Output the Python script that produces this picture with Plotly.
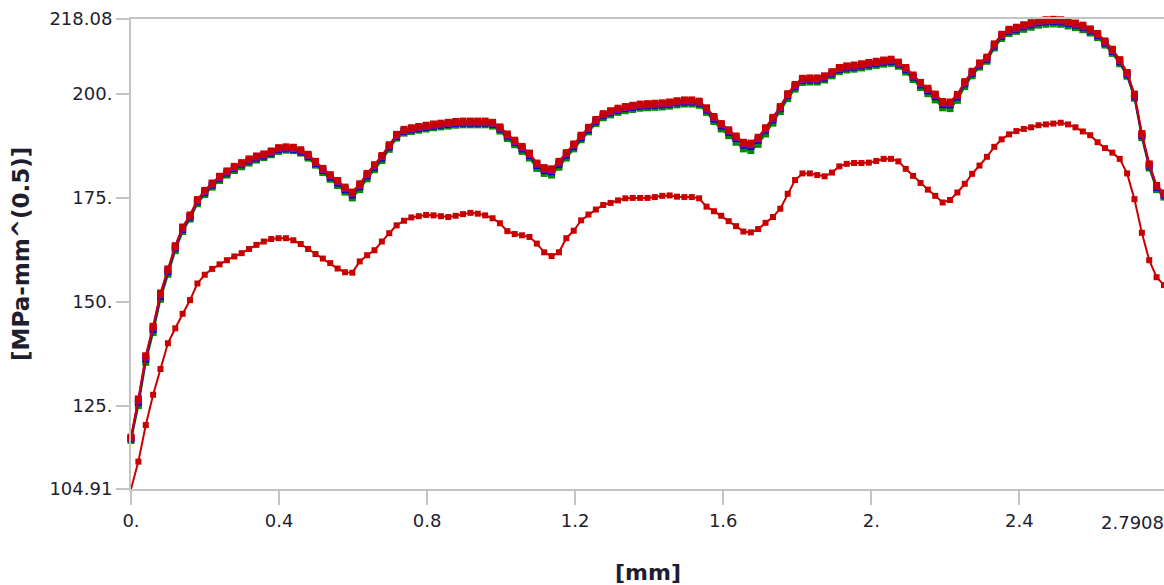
import plotly.graph_objects as go

# distance along path [mm]
x_mm = [0.0, 0.0199, 0.0399, 0.0598, 0.0797, 0.0997, 0.1196, 0.1395, 0.1595, 0.1794,
        0.1993, 0.2193, 0.2392, 0.2591, 0.2791, 0.2990, 0.3189, 0.3389, 0.3588, 0.3788,
        0.3987, 0.4186, 0.4386, 0.4585, 0.4784, 0.4984, 0.5183, 0.5382, 0.5582, 0.5781,
        0.5980, 0.6180, 0.6379, 0.6578, 0.6778, 0.6977, 0.7176, 0.7376, 0.7575, 0.7774,
        0.7974, 0.8173, 0.8372, 0.8572, 0.8771, 0.8970, 0.9170, 0.9369, 0.9568, 0.9768,
        0.9967, 1.0167, 1.0366, 1.0565, 1.0765, 1.0964, 1.1163, 1.1363, 1.1562, 1.1761,
        1.1961, 1.2160, 1.2359, 1.2559, 1.2758, 1.2957, 1.3157, 1.3356, 1.3555, 1.3755,
        1.3954, 1.4153, 1.4353, 1.4552, 1.4751, 1.4951, 1.5150, 1.5349, 1.5549, 1.5748,
        1.5947, 1.6147, 1.6346, 1.6545, 1.6745, 1.6944, 1.7143, 1.7343, 1.7542, 1.7742,
        1.7941, 1.8140, 1.8340, 1.8539, 1.8738, 1.8938, 1.9137, 1.9336, 1.9536, 1.9735,
        1.9934, 2.0134, 2.0333, 2.0532, 2.0732, 2.0931, 2.1130, 2.1330, 2.1529, 2.1728,
        2.1928, 2.2127, 2.2326, 2.2526, 2.2725, 2.2924, 2.3124, 2.3323, 2.3522, 2.3722,
        2.3921, 2.4120, 2.4320, 2.4519, 2.4718, 2.4918, 2.5117, 2.5316, 2.5516, 2.5715,
        2.5914, 2.6114, 2.6313, 2.6512, 2.6712, 2.6911, 2.7110, 2.7310, 2.7509, 2.7708,
        2.7908]

k_green = [116.6, 125.0, 135.4, 142.6, 150.6, 156.6, 162.3, 166.9, 169.9, 173.6,
           175.8, 177.6, 179.2, 180.5, 181.6, 182.5, 183.4, 184.1, 184.7, 185.4,
           186.2, 186.5, 186.4, 185.8, 184.6, 182.9, 181.1, 179.5, 178.0, 176.4,
           175.0, 177.0, 179.6, 181.8, 184.0, 186.7, 189.4, 190.6, 191.0, 191.3,
           191.6, 191.9, 192.1, 192.3, 192.5, 192.6, 192.6, 192.6, 192.6, 192.3,
           191.1, 189.3, 187.8, 186.2, 184.6, 182.1, 180.9, 180.5, 182.4, 184.6,
           186.8, 189.0, 190.9, 192.9, 194.3, 195.0, 195.6, 196.0, 196.3, 196.6,
           196.7, 196.8, 196.9, 197.1, 197.4, 197.6, 197.6, 197.3, 195.6, 193.4,
           191.6, 190.0, 188.4, 186.8, 186.4, 187.9, 190.4, 193.0, 195.8, 198.9,
           201.2, 202.8, 202.9, 202.9, 203.4, 204.4, 205.4, 205.8, 206.0, 206.3,
           206.6, 206.9, 207.2, 207.4, 206.7, 205.3, 203.5, 201.6, 200.1, 198.6,
           196.7, 196.5, 198.5, 201.8, 204.4, 206.5, 207.9, 211.1, 213.4, 214.6,
           215.1, 215.6, 216.1, 216.6, 216.8, 216.9, 216.8, 216.4, 216.0, 215.5,
           214.7, 213.6, 211.8, 209.8, 207.3, 204.3, 199.0, 189.5, 182.2, 177.0,
           175.2]

k_blue = [117.0, 125.8, 136.2, 143.3, 151.3, 157.2, 162.9, 167.4, 170.4, 174.1,
          176.3, 178.1, 179.7, 181.0, 182.1, 183.0, 183.9, 184.6, 185.1, 185.8,
          186.6, 186.8, 186.7, 186.1, 185.0, 183.3, 181.6, 180.0, 178.6, 177.0,
          175.7, 177.7, 180.3, 182.4, 184.6, 187.3, 189.8, 191.0, 191.4, 191.7,
          192.0, 192.3, 192.5, 192.7, 192.9, 193.0, 193.0, 193.0, 193.0, 192.7,
          191.6, 189.9, 188.4, 186.8, 185.2, 182.8, 181.6, 181.3, 183.1, 185.3,
          187.4, 189.5, 191.4, 193.4, 194.8, 195.5, 196.1, 196.5, 196.8, 197.1,
          197.2, 197.3, 197.4, 197.6, 197.9, 198.1, 198.1, 197.8, 196.2, 194.0,
          192.3, 190.8, 189.3, 187.7, 187.4, 188.9, 191.3, 193.8, 196.5, 199.6,
          201.8, 203.3, 203.4, 203.4, 203.9, 204.9, 205.9, 206.3, 206.5, 206.8,
          207.1, 207.4, 207.7, 207.9, 207.2, 205.9, 204.1, 202.2, 200.8, 199.4,
          197.5, 197.4, 199.3, 202.5, 205.0, 207.0, 208.4, 211.6, 213.9, 215.1,
          215.6, 216.2, 216.7, 217.2, 217.4, 217.5, 217.4, 217.0, 216.6, 216.1,
          215.2, 214.1, 212.3, 210.3, 207.8, 204.7, 199.5, 190.0, 182.7, 177.5,
          175.7]

k_purple = [117.2, 126.3, 136.7, 143.8, 151.8, 157.6, 163.2, 167.7, 170.6, 174.3,
            176.5, 178.3, 179.9, 181.2, 182.3, 183.2, 184.1, 184.8, 185.3, 186.0,
            186.8, 187.0, 186.9, 186.3, 185.2, 183.5, 181.8, 180.3, 178.9, 177.3,
            176.0, 178.0, 180.6, 182.7, 184.9, 187.5, 190.0, 191.2, 191.6, 191.9,
            192.2, 192.5, 192.7, 192.9, 193.1, 193.2, 193.2, 193.2, 193.2, 192.9,
            191.8, 190.1, 188.6, 187.1, 185.5, 183.1, 181.9, 181.6, 183.4, 185.6,
            187.7, 189.8, 191.7, 193.6, 195.0, 195.7, 196.3, 196.7, 197.0, 197.3,
            197.4, 197.5, 197.6, 197.8, 198.1, 198.3, 198.3, 198.0, 196.4, 194.3,
            192.6, 191.1, 189.6, 188.0, 187.8, 189.2, 191.6, 194.1, 196.7, 199.8,
            202.0, 203.5, 203.6, 203.6, 204.1, 205.1, 206.1, 206.5, 206.7, 207.0,
            207.3, 207.6, 207.9, 208.1, 207.4, 206.1, 204.3, 202.5, 201.1, 199.7,
            197.8, 197.7, 199.6, 202.7, 205.2, 207.2, 208.6, 211.8, 214.1, 215.3,
            215.8, 216.4, 216.9, 217.4, 217.6, 217.7, 217.6, 217.2, 216.8, 216.3,
            215.4, 214.3, 212.5, 210.5, 208.0, 204.9, 199.7, 190.2, 182.9, 177.7,
            175.9]

k_red = [117.4, 126.6, 137.0, 144.1, 152.1, 157.9, 163.5, 168.0, 170.9, 174.6,
         176.8, 178.6, 180.2, 181.5, 182.6, 183.5, 184.4, 185.1, 185.6, 186.3,
         187.1, 187.3, 187.2, 186.6, 185.5, 183.8, 182.1, 180.6, 179.2, 177.6,
         176.4, 178.4, 180.9, 183.0, 185.2, 187.8, 190.3, 191.5, 191.9, 192.2,
         192.5, 192.8, 193.0, 193.2, 193.4, 193.5, 193.5, 193.5, 193.5, 193.2,
         192.1, 190.4, 188.9, 187.4, 185.8, 183.4, 182.3, 182.0, 183.8, 185.9,
         188.0, 190.1, 192.0, 193.9, 195.3, 196.0, 196.6, 197.0, 197.3, 197.6,
         197.7, 197.8, 197.9, 198.1, 198.4, 198.6, 198.6, 198.3, 196.7, 194.6,
         192.9, 191.4, 189.9, 188.4, 188.2, 189.6, 191.9, 194.4, 197.0, 200.1,
         202.3, 203.8, 203.9, 203.9, 204.4, 205.4, 206.4, 206.8, 207.0, 207.3,
         207.6, 207.9, 208.2, 208.4, 207.7, 206.4, 204.6, 202.8, 201.4, 200.0,
         198.2, 198.1, 199.9, 203.0, 205.5, 207.5, 208.9, 212.1, 214.4, 215.6,
         216.1, 216.7, 217.2, 217.7, 217.9, 218.0, 217.9, 217.5, 217.1, 216.6,
         215.7, 214.6, 212.8, 210.8, 208.3, 205.2, 200.0, 190.5, 183.2, 178.0,
         176.2]

k_lower = [104.9, 111.5, 120.3, 127.6, 133.8, 140.0, 143.6, 147.1, 150.4, 154.4,
           156.5, 157.9, 159.0, 160.0, 160.9, 161.7, 162.7, 163.7, 164.5, 165.1,
           165.3, 165.3, 164.8, 163.9, 162.7, 161.5, 160.4, 159.3, 158.0, 157.1,
           157.0, 159.7, 161.2, 162.4, 164.5, 166.5, 168.4, 169.5, 170.3, 170.6,
           170.9, 170.8, 170.6, 170.4, 170.7, 171.1, 171.4, 171.2, 170.8, 170.1,
           168.9, 167.0, 166.3, 166.0, 165.6, 164.0, 161.9, 161.0, 161.9, 165.3,
           167.1, 169.6, 171.0, 172.2, 173.3, 173.8, 174.4, 174.9, 175.0, 175.0,
           175.0, 175.2, 175.5, 175.6, 175.3, 175.2, 175.2, 174.9, 172.9, 171.8,
           170.7, 169.4, 168.2, 166.9, 166.7, 167.5, 169.0, 170.4, 172.4, 176.0,
           179.3, 180.9, 180.9, 180.5, 180.2, 181.1, 182.6, 183.2, 183.4, 183.4,
           183.5, 183.9, 184.4, 184.4, 183.8, 182.0, 180.3, 178.6, 177.0, 175.5,
           173.9, 174.5, 176.3, 178.4, 180.8, 182.8, 184.9, 187.3, 189.1, 190.3,
           191.1, 191.6, 192.0, 192.5, 192.7, 192.9, 193.1, 192.7, 192.0, 191.0,
           190.1, 188.4, 187.0, 185.9, 184.4, 180.9, 174.7, 166.6, 160.0, 155.9,
           154.0]

x_ticks = [0.0, 0.4, 0.8, 1.2, 1.6, 2.0, 2.4]
x_ticktext = ["0.", "0.4", "0.8", "1.2", "1.6", "2.", "2.4"]
x_max = 2.7908
x_max_label = "2.7908"
y_ticks = [104.91, 125, 150, 175, 200, 218.08]
y_ticktext = ["104.91", "125.", "150.", "175.", "200.", "218.08"]
x_title = "[mm]"
y_title = "[MPa-mm^(0.5)]"

series = [
    ("green", k_green, "#008a00", 7, 2),
    ("blue", k_blue, "#0000c8", 7, 2),
    ("purple", k_purple, "#a000a0", 7, 2),
    ("red", k_red, "#c80000", 7, 2),
    ("lower", k_lower, "#c80000", 6, 2),
]

fig = go.Figure()
for name, ys, col, msize, lw in series:
    fig.add_trace(go.Scatter(
        x=x_mm, y=ys, name=name, mode="lines+markers",
        line=dict(color=col, width=lw),
        marker=dict(symbol="square", size=msize, color=col, line=dict(width=0)),
        cliponaxis=False, showlegend=False,
    ))

tick_font = dict(family="DejaVu Sans", size=18, color="#1e1e2e")
axis_col = "#c4c4c4"

fig.update_layout(
    width=1164, height=585,
    margin=dict(l=131, r=0, t=19, b=96, autoexpand=False),
    paper_bgcolor="white", plot_bgcolor="white",
    hovermode=False,
    xaxis=dict(
        range=[0, x_max], tickvals=x_ticks, ticktext=x_ticktext,
        showgrid=False, zeroline=False, showline=True, linecolor=axis_col,
        linewidth=2, mirror=True, ticks="outside", ticklen=14, tickwidth=2,
        tickcolor=axis_col, tickfont=tick_font,
    ),
    yaxis=dict(
        range=[104.91, 218.08], tickvals=y_ticks, ticktext=y_ticktext,
        showgrid=False, zeroline=False, showline=True, linecolor=axis_col,
        linewidth=2, ticks="outside", ticklen=13, tickwidth=2,
        tickcolor=axis_col, tickfont=tick_font,
    ),
    annotations=[
        dict(text=x_max_label, xref="paper", yref="paper", x=(1132 - 131) / 1033,
             y=0, xanchor="center", yanchor="middle", yshift=-33,
             showarrow=False, font=tick_font),
        dict(text="<b>" + x_title + "</b>", xref="paper", yref="paper", x=0.5,
             y=0, xanchor="center", yanchor="middle", yshift=-83, showarrow=False,
             font=dict(family="DejaVu Sans", size=22, color="#1e1e2e")),
        dict(text="<b>" + y_title + "</b>", xref="paper", yref="paper", x=0,
             y=0.5, xanchor="center", yanchor="middle", xshift=-110,
             textangle=-90, showarrow=False,
             font=dict(family="DejaVu Sans", size=23, color="#1e1e2e")),
    ],
)

fig.write_html(
    "out.html",
    config={"displayModeBar": False},
    post_script="document.body.style.margin='0';document.body.style.overflow='hidden';",
)
